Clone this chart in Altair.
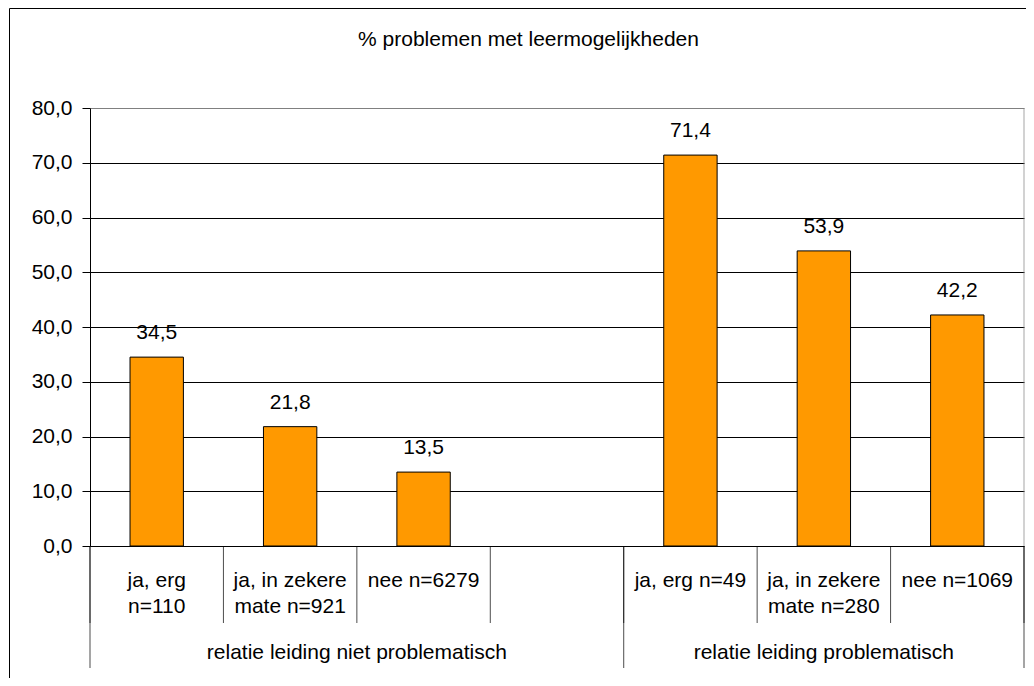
import altair as alt
import pandas as pd

title_text = "% problemen met leermogelijkheden"
categories = ["ja, erg\nn=110", "ja, in zekere\nmate n=921", "nee n=6279", "",
              "ja, erg n=49", "ja, in zekere\nmate n=280", "nee n=1069"]
values = [34.5, 21.8, 13.5, None, 71.4, 53.9, 42.2]
groups = ["relatie leiding niet problematisch", "relatie leiding problematisch"]
group_start = [0, 4]
group_end = [4, 7]
slot_bounds = [0, 1, 2, 3, 4, 5, 6, 7]
group_bounds = [0, 4, 7]
y_ticks = [0, 10, 20, 30, 40, 50, 60, 70, 80]

FONT = "Liberation Sans"
FS = 21
W, H = 934, 438

slots = pd.DataFrame({"slot": list(range(len(categories))), "cat": categories, "value": values})
slots["x0"] = slots["slot"] + 0.3
slots["x1"] = slots["slot"] + 0.7
slots["xc"] = slots["slot"] + 0.5
bars_df = slots.dropna(subset=["value"]).copy()
bars_df["label"] = bars_df["value"].map(lambda v: f"{v:.1f}".replace(".", ","))

grp_df = pd.DataFrame({"g": groups, "s": group_start, "e": group_end})
grp_df["c"] = (grp_df["s"] + grp_df["e"]) / 2
sb_df = pd.DataFrame({"b": slot_bounds})
gb_df = pd.DataFrame({"b": group_bounds})
edge_df = pd.DataFrame({"b": [slot_bounds[-1]]})
one = pd.DataFrame({"k": [0]})

xs = alt.Scale(domain=[0, 7], nice=False, zero=False)
ys = alt.Scale(domain=[0, 80], nice=False, zero=False)

yaxis = alt.Axis(
    values=y_ticks,
    labelExpr="replace(format(datum.value, '.1f'), '.', ',')",
    labelFont=FONT, labelFontSize=FS, labelColor="black", labelPadding=10,
    tickColor="black", tickSize=8, tickWidth=1,
    domainColor="black", domainWidth=1,
    gridColor={"condition": {"test": "datum.value === 80", "value": "#808080"}, "value": "#000000"},
    gridOpacity=1, gridWidth=1, title=None,
)

bars = alt.Chart(bars_df).mark_rect(color="#FF9900", stroke="black", strokeWidth=1).encode(
    x=alt.X("x0:Q", scale=xs, axis=None),
    x2="x1:Q",
    y=alt.Y("value:Q", scale=ys, axis=yaxis),
    y2=alt.datum(0),
)

vlabels = alt.Chart(bars_df).mark_text(font=FONT, fontSize=FS, baseline="alphabetic", dy=-18, color="black").encode(
    x=alt.X("xc:Q", scale=xs, axis=None),
    y=alt.Y("value:Q", scale=ys),
    text="label:N",
)

catlabels = alt.Chart(slots).mark_text(font=FONT, fontSize=FS, baseline="alphabetic", lineBreak="\n",
                                       lineHeight=26, align="center", color="black").encode(
    x=alt.X("xc:Q", scale=xs, axis=None),
    y=alt.value(H + 41),
    text="cat:N",
)

grplabels = alt.Chart(grp_df).mark_text(font=FONT, fontSize=FS, baseline="alphabetic", align="center",
                                        color="black").encode(
    x=alt.X("c:Q", scale=xs, axis=None),
    y=alt.value(H + 113),
    text="g:N",
)

short_rules = alt.Chart(sb_df).mark_tick(color="black", thickness=1, size=77, orient="vertical", yOffset=38.5).encode(
    x=alt.X("b:Q", scale=xs, axis=None),
    y=alt.value(H),
)

long_rules = alt.Chart(gb_df).mark_tick(color="black", thickness=1, size=122, orient="vertical", yOffset=61).encode(
    x=alt.X("b:Q", scale=xs, axis=None),
    y=alt.value(H),
)

right_edge = alt.Chart(edge_df).mark_tick(color="#808080", thickness=1, size=H, orient="vertical", yOffset=H / 2).encode(
    x=alt.X("b:Q", scale=xs, axis=None),
    y=alt.value(0),
)

title = alt.Chart(pd.DataFrame({"t": [title_text]})).mark_text(
    font=FONT, fontSize=FS, baseline="alphabetic", align="center", color="black").encode(
    x=alt.value(438.5),
    y=alt.value(-62),
    text="t:N",
)

frame_left = alt.Chart(one).mark_rule(color="black", strokeWidth=1).encode(
    x=alt.value(-80.5), y=alt.value(-99.5), y2=alt.value(H + 140),
)
frame_top = alt.Chart(one).mark_rule(color="black", strokeWidth=1).encode(
    y=alt.value(-99.5), x=alt.value(-80.5), x2=alt.value(W + 10),
)

chart = alt.layer(frame_left, frame_top, right_edge, short_rules, long_rules, bars, vlabels,
                  catlabels, grplabels, title).properties(
    width=W, height=H,
    autosize=alt.AutoSizeParams(type="none"),
    padding={"left": 82, "top": 100, "right": 2, "bottom": 132},
    background="white",
).configure_view(stroke="transparent", strokeWidth=0)

chart.save("out.html", embed_options={"renderer": "svg", "actions": False})
